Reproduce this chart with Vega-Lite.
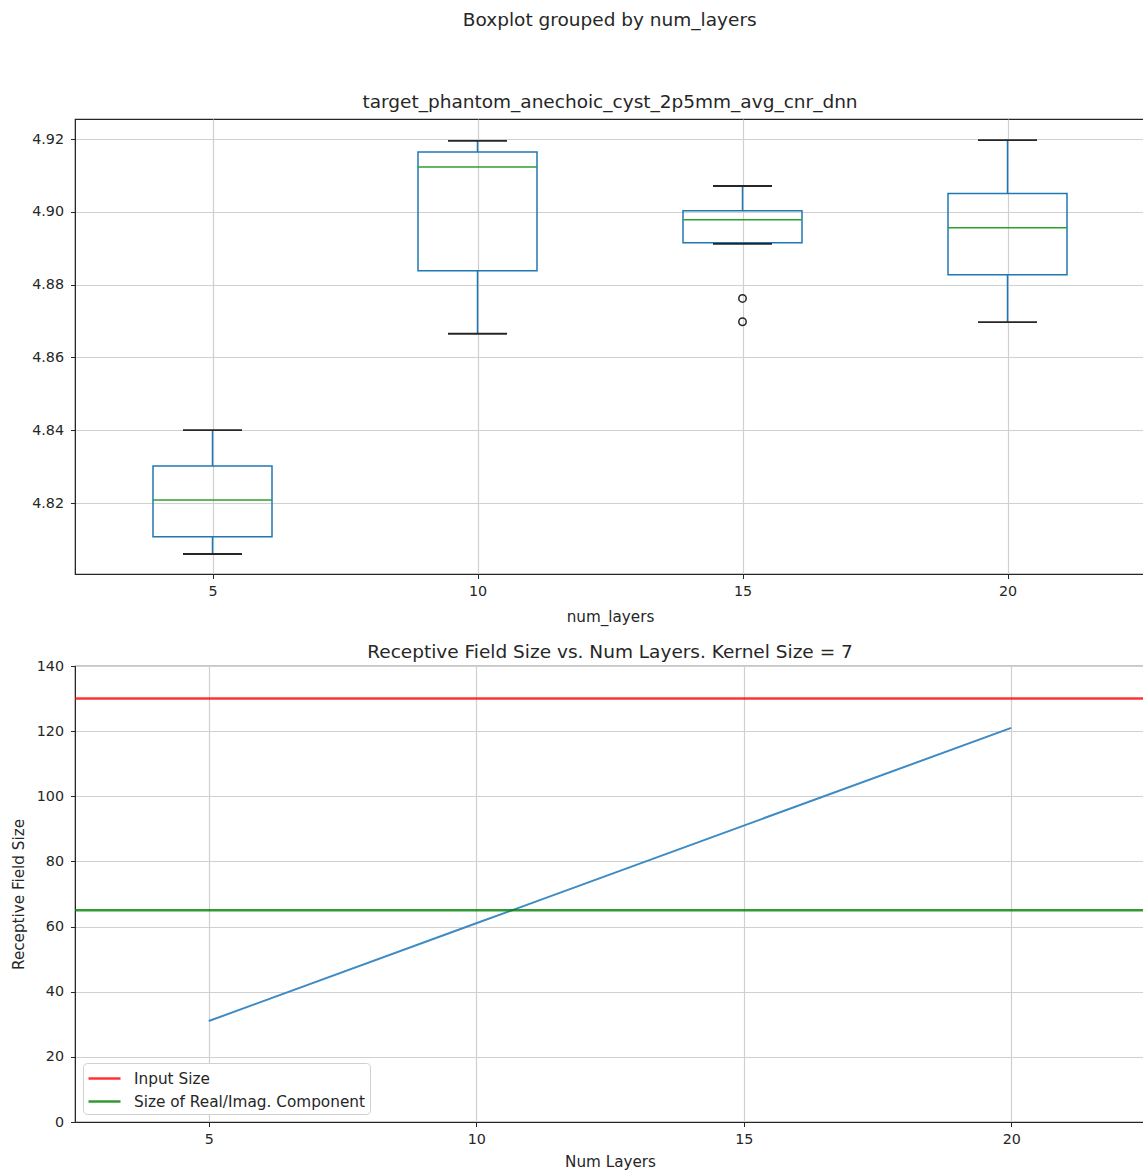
{
  "$schema": "https://vega.github.io/schema/vega-lite/v6.json",
  "background": "white",
  "padding": {"left": 10, "top": 11, "right": 0, "bottom": 0},
  "title": {"text": "Boxplot grouped by num_layers", "fontSize": 18.5, "fontWeight": "normal", "font": "DejaVu Sans", "color": "#262626", "anchor": "middle", "offset": 62, "dx": 31},
  "spacing": 15,
  "resolve": {"legend": {"color": "independent"}},
  "config": {
    "font": "DejaVu Sans",
    "view": {"stroke": "#262626", "strokeWidth": 1.2},
    "title": {"fontSize": 18.5, "fontWeight": "normal", "color": "#262626", "offset": 8},
    "axis": {
      "domainColor": "#262626", "tickColor": "#262626", "labelColor": "#262626", "titleColor": "#262626",
      "labelFontSize": 14.3, "titleFontSize": 15.2, "titleFontWeight": "normal",
      "labelFont": "DejaVu Sans", "titleFont": "DejaVu Sans",
      "gridColor": "#d0d0d0", "gridWidth": 1.2, "tickSize": 4.5, "labelPadding": 6
    },
    "axisY": {"labelPadding": 7}
  },
  "vconcat": [
    {
      "width": 1070,
      "height": 455,
      "title": "target_phantom_anechoic_cyst_2p5mm_avg_cnr_dnn",
      "data": {"values": [
        {"num_layers": 5, "lo": 4.806, "q1": 4.8107, "med": 4.8208, "q3": 4.8302, "hi": 4.840},
        {"num_layers": 10, "lo": 4.8665, "q1": 4.8838, "med": 4.9123, "q3": 4.9164, "hi": 4.9195},
        {"num_layers": 15, "lo": 4.8912, "q1": 4.8915, "med": 4.8978, "q3": 4.9003, "hi": 4.9071},
        {"num_layers": 20, "lo": 4.8697, "q1": 4.8827, "med": 4.8956, "q3": 4.9050, "hi": 4.9197}
      ]},
      "encoding": {
        "x": {"field": "num_layers", "type": "quantitative", "scale": {"domain": [2.5, 22.5], "nice": false, "zero": false},
              "axis": {"values": [5, 10, 15, 20], "title": "num_layers", "titlePadding": 11}}
      },
      "layer": [
        {"mark": {"type": "rule", "color": "#1f77b4", "strokeWidth": 1.5},
         "encoding": {"y": {"field": "lo", "type": "quantitative", "scale": {"domain": [4.8005, 4.9255], "nice": false, "zero": false},
                            "axis": {"values": [4.82, 4.84, 4.86, 4.88, 4.90, 4.92], "format": ".2f", "title": null}},
                      "y2": {"field": "q1"}}},
        {"mark": {"type": "rule", "color": "#1f77b4", "strokeWidth": 1.5},
         "encoding": {"y": {"field": "q3", "type": "quantitative"}, "y2": {"field": "hi"}}},
        {"mark": {"type": "bar", "orient": "vertical", "size": 119, "fill": null, "fillOpacity": 0, "stroke": "#1f77b4", "strokeWidth": 1.5},
         "encoding": {"y": {"field": "q1", "type": "quantitative"}, "y2": {"field": "q3"}}},
        {"mark": {"type": "tick", "orient": "horizontal", "size": 119, "thickness": 1.5, "color": "#2ca02c", "opacity": 1},
         "encoding": {"y": {"field": "med", "type": "quantitative"}}},
        {"mark": {"type": "tick", "orient": "horizontal", "size": 59, "thickness": 1.8, "color": "#262626", "opacity": 1},
         "encoding": {"y": {"field": "hi", "type": "quantitative"}}},
        {"mark": {"type": "tick", "orient": "horizontal", "size": 59, "thickness": 1.8, "color": "#262626", "opacity": 1},
         "encoding": {"y": {"field": "lo", "type": "quantitative"}}},
        {"data": {"values": [
           {"num_layers": 15, "outlier": 4.8762},
           {"num_layers": 15, "outlier": 4.8698}
         ]},
         "mark": {"type": "point", "shape": "circle", "filled": false, "stroke": "#262626", "strokeWidth": 1.5, "size": 55, "opacity": 1},
         "encoding": {"y": {"field": "outlier", "type": "quantitative"}}}
      ]
    },
    {
      "width": 1070,
      "height": 456,
      "title": {"text": "Receptive Field Size vs. Num Layers. Kernel Size = 7", "offset": -2},
      "layer": [
        {
          "data": {"values": [
            {"layers": 5, "rf": 31},
            {"layers": 10, "rf": 61},
            {"layers": 15, "rf": 91},
            {"layers": 20, "rf": 121}
          ]},
          "mark": {"type": "line", "color": "#3d8bc4", "strokeWidth": 2},
          "encoding": {
            "x": {"field": "layers", "type": "quantitative", "scale": {"domain": [2.5, 22.5], "nice": false, "zero": false},
                  "axis": {"values": [5, 10, 15, 20], "title": "Num Layers", "titlePadding": 8}},
            "y": {"field": "rf", "type": "quantitative", "scale": {"domain": [0, 140], "nice": false},
                  "axis": {"values": [0, 20, 40, 60, 80, 100, 120, 140], "title": "Receptive Field Size", "titlePadding": 10}}
          }
        },
        {
          "data": {"values": [
            {"label": "Input Size", "size": 130},
            {"label": "Size of Real/Imag. Component", "size": 65}
          ]},
          "mark": {"type": "rule", "strokeWidth": 2.5, "opacity": 0.8},
          "encoding": {
            "y": {"field": "size", "type": "quantitative"},
            "color": {"field": "label", "type": "nominal",
                      "scale": {"domain": ["Input Size", "Size of Real/Imag. Component"], "range": ["#ff0000", "#008000"]},
                      "legend": {"title": null, "orient": "bottom-left", "offset": 8, "symbolType": "M-1,0H2.2", "symbolSize": 400,
                                 "symbolStrokeWidth": 2.5, "labelOffset": 24, "labelFontSize": 15.3, "labelColor": "#262626", "labelFont": "DejaVu Sans",
                                 "strokeColor": "#d0d0d0", "fillColor": "white", "cornerRadius": 4, "padding": 4, "rowPadding": 3, "labelLimit": 400}}
          }
        }
      ]
    }
  ]
}
